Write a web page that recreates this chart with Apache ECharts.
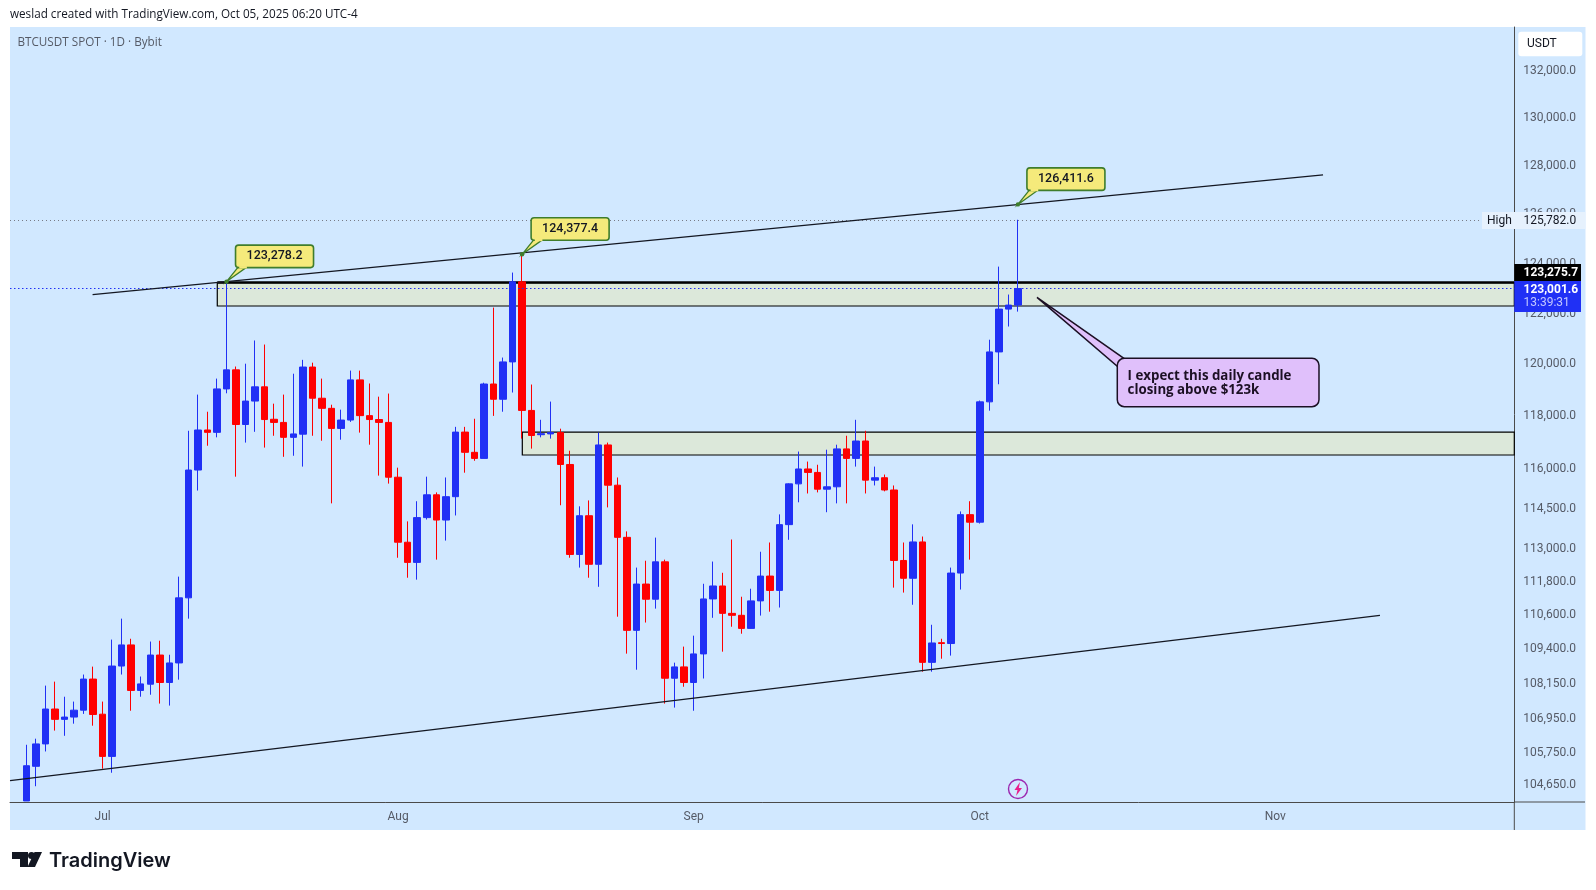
<!DOCTYPE html>
<html><head><meta charset="utf-8"><style>html,body{margin:0;padding:0;background:#fff}#c{width:1596px;height:890px}</style>
<script src="https://cdn.jsdelivr.net/npm/echarts@6/dist/echarts.min.js"></script></head>
<body><div id="c"></div><script>
const opens=[104120,105300,106070,107280,106920,107000,107240,108330,107100,105640,108790,109540,107930,108150,109180,108210,108900,111230,115950,117470,117380,119050,119790,117680,118580,119130,117880,117760,117190,117310,119900,118690,118300,117530,117850,119400,118020,117870,117760,115680,113260,112520,114170,115020,114080,114950,117390,116620,116390,119240,118650,120100,123270,118220,117290,117320,117370,116160,112810,114240,112450,116900,115380,113440,110060,111730,111180,112540,108360,108760,108210,109220,111190,111660,110670,110600,110130,111120,112020,111500,113910,115430,115990,115860,115230,115320,116750,116390,117050,115570,115660,115200,112590,111940,113270,108920,109620,109590,112130,114280,114000,118550,120490,122180,122340];
const closes=[105320,106070,107280,106920,107000,107240,108330,107090,105640,108790,109540,107930,108160,109180,108210,108900,111230,115950,117470,117380,119050,119790,117680,118580,119130,117870,117760,117190,117320,119900,118690,118300,117530,117850,119400,118020,117870,117760,115680,113260,112520,114170,115020,114080,114950,117390,116620,116390,119240,118650,120100,123270,118220,117260,117330,117370,116160,112810,114240,112450,116900,115380,113440,110060,111730,111180,112540,108360,108760,108210,109220,111190,111660,110670,110600,110130,111120,112020,111500,113910,115430,115990,115860,115230,115320,116750,116390,117050,115570,115660,115200,112590,111940,113270,108920,109610,109590,112130,114280,114000,118550,120490,122180,122340,123001.6];
const lows=[104120,104620,105810,106530,106350,106770,107110,106700,105220,105080,108490,107220,107710,107780,107470,107400,108310,110480,115180,116870,117190,118880,115700,116990,117400,116800,117250,116450,116490,116080,117250,117060,114700,117100,117780,117370,116910,115740,115440,112690,111960,111890,114100,112620,113320,114250,115850,116300,116390,118010,118170,118910,117140,116760,117190,117140,114630,112690,112330,111960,111630,114550,110550,109230,108660,110340,110840,107470,107330,108060,107220,108350,110510,109300,110190,109940,110120,110590,110730,110880,113350,114740,115070,115110,114370,114700,114700,116080,115070,115370,115150,111600,111420,110980,108590,108590,109050,109160,111530,112620,113950,118210,119230,121490,122080];
const highs=[106040,106250,108100,108240,107710,107540,108490,108770,107540,109730,110480,109760,108420,109660,109690,109190,112000,117440,118830,118170,119450,123280,119920,120030,120940,120780,118480,118830,119640,120180,120070,119450,118440,118250,119760,119760,119260,118750,118870,116040,114030,114780,115700,115110,115670,117590,117590,117900,119290,122240,120270,123640,124420,119220,117860,118560,117520,116680,114590,114810,117370,116990,115670,113660,112330,112580,113430,112620,108910,109480,109870,111740,112550,112140,113360,111270,111560,112910,113250,114290,115450,116650,116270,116150,116720,116910,117250,117860,117440,116080,115780,115370,113250,113920,113470,110260,109760,112330,114400,114780,118600,120970,123880,122760,125782];

const priceTicks=[132000,130000,128000,126000,124000,122000,120000,118000,116000,114500,113000,111800,110600,109400,108150,106950,105750,104650];
const monthNames=['Jul','Aug','Sep','Oct','Nov'];
const monthDays=[8,39,70,100,131];
const dayMin=-1.71, dayMax=156.06, priceMin=104085, priceMax=133919;

const upperTrend=[[6.95,122756],[136,127630]];
const lowerTrend=[[-1.71,104810],[141.97,110600]];
const zoneDays=[20.03,52.02];
const zoneTops=[123240,117392];
const zoneBottoms=[122304,116518];
const lastPrice=123001.6, highPrice=125782;
const calloutDays=[21,52,104];
const calloutPrices=[123278.2,124377.4,126411.6];
const calloutTexts=['123,278.2','124,377.4','126,411.6'];
const noteTip=[[106,122648]];
const noteLines=['I expect this daily candle','closing above $123k'];

const PANE='#d1e8ff', UP='#2030f5', DOWN='#ff0000', AXIS='#4a4a4a', TXT='#555a66';
const FONT='Roboto, "Liberation Sans", sans-serif';
const candleData=opens.map((o,i)=>[i,o,closes[i],lows[i],highs[i]]);
const fmt=v=>Math.round(v).toLocaleString('en-US')+'.0';

const chart=echarts.init(document.getElementById('c'),null,{renderer:'canvas'});
const tag=(x,y,w,h,fill,z)=>({type:'rect',z:z||100,shape:{x,y,width:w,height:h},style:{fill}});
const txt=(x,y,text,fill,font,z,align)=>({type:'text',z:z||101,x,y,style:{text,fill,font,textVerticalAlign:'middle',textAlign:align||'left'}});
chart.setOption({
  animation:false,
  backgroundColor:'#ffffff',
  grid:{left:10,top:27,width:1504.3,height:775,show:false},
  tooltip:{show:false},
  xAxis:{type:'value',min:dayMin,max:dayMax,splitLine:{show:false},
    axisLine:{show:true,onZero:false,lineStyle:{color:AXIS,width:1}},axisTick:{show:false},
    axisLabel:{customValues:monthDays,formatter:v=>monthNames[monthDays.indexOf(v)],color:TXT,fontFamily:FONT,fontSize:12,margin:9}},
  yAxis:{type:'log',logBase:10,min:priceMin,max:priceMax,position:'right',splitLine:{show:false},
    axisLine:{show:true,onZero:false,lineStyle:{color:AXIS,width:1}},axisTick:{show:false},
    axisLabel:{customValues:priceTicks,formatter:fmt,color:TXT,fontFamily:FONT,fontSize:12,margin:9}},
  graphic:{elements:[
    {type:'rect',z:-100,shape:{x:10,y:27,width:1575.5,height:803},style:{fill:PANE}},
    {type:'line',z:5,shape:{x1:1514.3,y1:802,x2:1514.3,y2:830},style:{stroke:AXIS,lineWidth:1}},
    {type:'line',z:5,shape:{x1:1514.3,y1:802,x2:1585,y2:802},style:{stroke:AXIS,lineWidth:1}},
    txt(10,14.5,'weslad created with TradingView.com, Oct 05, 2025 06:20 UTC-4','#131722','11.7px "Open Sans", sans-serif'),
    txt(17.5,42.5,'BTCUSDT SPOT · 1D · Bybit','#555a66','11.7px "Open Sans", sans-serif'),
    {type:'rect',z:100,shape:{x:1518.3,y:31.7,width:64,height:24.5,r:3},style:{fill:'#ffffff'}},
    txt(1527,44,'USDT','#131722','12px '+FONT),
    tag(1482,212,103,17,'#e6f1fd'),
    txt(1487,220.5,'High','#131722','12px '+FONT),
    txt(1523.5,220.5,'125,782.0','#131722','12px '+FONT),
    tag(1514.3,264,66.7,17,'#000000'),
    txt(1523.5,272.5,'123,275.7','#ffffff','bold 12px '+FONT),
    tag(1514.3,281,66.7,31,UP),
    txt(1523.5,289.5,'123,001.6','#ffffff','bold 12px '+FONT),
    txt(1523.5,303,'13:39:31','#c3c8ff','12px '+FONT),
    {type:'circle',z:50,shape:{cx:1018,cy:789,r:9.5},style:{fill:PANE,stroke:'#9c27b0',lineWidth:1.4}},
    {type:'polygon',z:51,shape:{points:[[1020,782],[1014.5,790],[1017.5,790],[1016,796],[1022,788],[1018.8,788]]},style:{fill:'#e91e8c'}},
    {type:'polygon',z:100,shape:{points:[[12,852],[28,852],[28,867],[20,867],[20,859],[12,859]]},style:{fill:'#131722'}},
    {type:'circle',z:100,shape:{cx:31.5,cy:855.5,r:3.5},style:{fill:'#131722'}},
    {type:'polygon',z:100,shape:{points:[[34.5,852],[42,852],[35,867],[27.5,867]]},style:{fill:'#131722'}},
    txt(49,861,'TradingView','#131722','600 20px Inter, sans-serif')
  ]},
  series:[
    {type:'candlestick',layout:'horizontal',data:candleData,encode:{x:0,y:[1,2,3,4]},barWidth:7,z:3,
      itemStyle:{color:UP,color0:DOWN,borderColor:UP,borderColor0:DOWN,borderWidth:1},
      markArea:{silent:true,z:1,itemStyle:{color:'#dce8da',borderColor:'#000000',borderWidth:1.2},
        data:zoneDays.map((d,i)=>[{xAxis:d,yAxis:zoneTops[i]},{xAxis:dayMax,yAxis:zoneBottoms[i]}])},
      markLine:{silent:true,symbol:'none',z:4,label:{show:false},
        data:[
          {yAxis:lastPrice,lineStyle:{color:UP,type:[1.5,2.5],width:1}},
          {yAxis:highPrice,lineStyle:{color:'#787b86',type:[1,3],width:1}}
        ]}},
    {type:'line',data:[[zoneDays[0],zoneTops[0]],[dayMax,zoneTops[0]]],showSymbol:false,silent:true,z:2,lineStyle:{color:'#000',width:2.4}},
    {type:'line',data:upperTrend,showSymbol:false,silent:true,z:5,lineStyle:{color:'#131722',width:1.2}},
    {type:'line',data:lowerTrend,showSymbol:false,silent:true,z:5,lineStyle:{color:'#131722',width:1.2}},
    {type:'custom',z:8,silent:true,clip:false,encode:{x:0,y:1},data:calloutDays.map((d,i)=>[d,calloutPrices[i]]),
      renderItem:(p,api)=>{
        const a=api.coord([api.value(0),api.value(1)]);
        const green='#3f7d2c';
        return {type:'group',children:[
          {type:'polygon',shape:{points:[[a[0],a[1]],[a[0]+12,a[1]-15],[a[0]+21,a[1]-15]]},style:{fill:'#f5ea7b',stroke:green,lineWidth:1.3}},
          {type:'rect',shape:{x:a[0]+9,y:a[1]-36.5,width:78,height:22.5,r:3},style:{fill:'#f5ea7b',stroke:green,lineWidth:1.6}},
          {type:'rect',shape:{x:a[0]+12.7,y:a[1]-15.5,width:7.6,height:2.4},style:{fill:'#f5ea7b'}},
          {type:'circle',shape:{cx:a[0],cy:a[1],r:2.2},style:{fill:green}},
          {type:'text',x:a[0]+48,y:a[1]-25.3,style:{text:calloutTexts[p.dataIndex],fill:'#131722',font:'500 12.5px '+FONT,textAlign:'center',textVerticalAlign:'middle'}}
        ]};
      }},
    {type:'custom',z:8,silent:true,clip:false,encode:{x:0,y:1},data:noteTip,
      renderItem:(p,api)=>{
        const a=api.coord([api.value(0),api.value(1)]);
        const ink='#1c1024', fill='#e0c0fb';
        const bx=a[0]+80.3, by=a[1]+61, bw=201.7, bh=48.3;
        return {type:'group',children:[
          {type:'polygon',shape:{points:[[a[0],a[1]],[bx+8,by+1],[bx,by+8]]},style:{fill,stroke:ink,lineWidth:1.5}},
          {type:'rect',shape:{x:bx,y:by,width:bw,height:bh,r:7},style:{fill,stroke:ink,lineWidth:1.5}},
          {type:'polygon',shape:{points:[[bx+9,by+1.4],[bx+1,by+9],[bx+12,by+9]]},style:{fill}},
          {type:'text',x:bx+10.3,y:by+17.5,style:{text:noteLines[0],fill:ink,font:'700 13.3px "Open Sans", sans-serif',textVerticalAlign:'middle'}},
          {type:'text',x:bx+10.3,y:by+32,style:{text:noteLines[1],fill:ink,font:'700 13.3px "Open Sans", sans-serif',textVerticalAlign:'middle'}}
        ]};
      }}
  ]
});
</script></body></html>
